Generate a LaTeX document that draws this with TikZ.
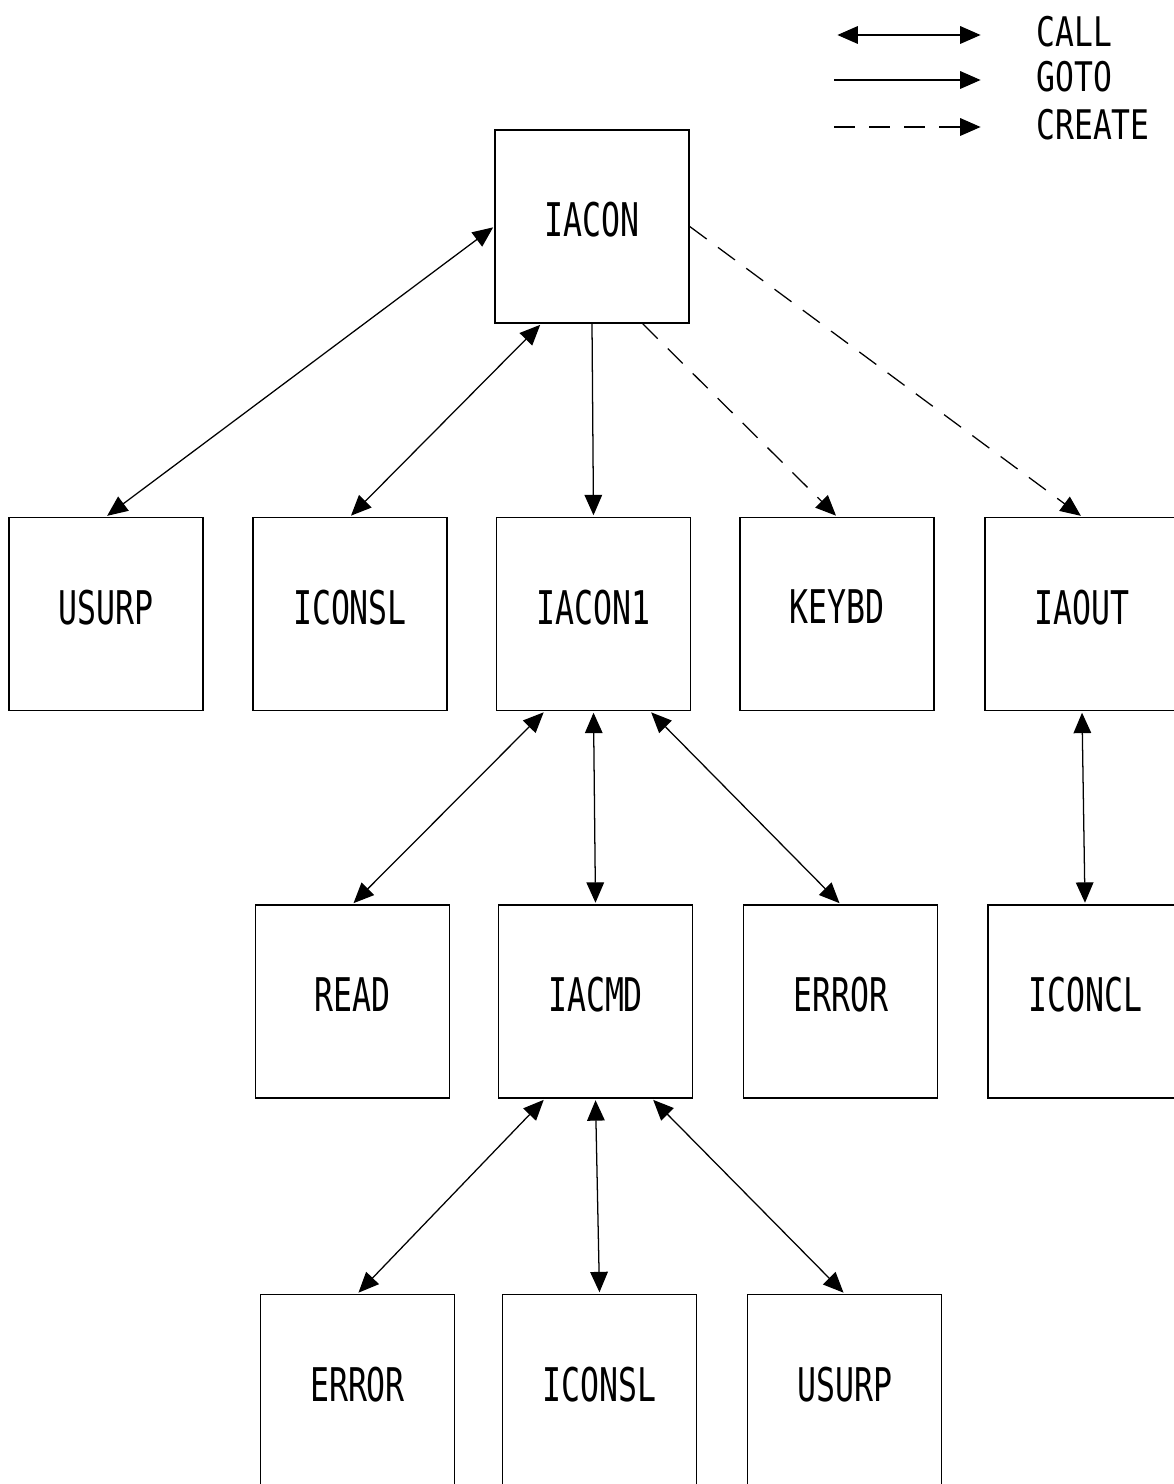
\documentclass[tikz,border=0pt]{standalone}
\usepackage{fontspec}
\newfontfamily\plotfont[FakeStretch=0.68]{DejaVu Sans Mono}
\newfontfamily\keyfont[FakeStretch=0.77]{DejaVu Sans Mono}
\usetikzlibrary{arrows.meta,calc}

\begin{document}
\begin{tikzpicture}[x=0.025cm,y=-0.025cm,
    box/.style={draw, line width=1pt, minimum width=4.85cm, minimum height=4.83cm,
        inner sep=0pt, text depth=10pt, font=\plotfont\fontsize{33}{33}\selectfont},
    key/.style={anchor=west, inner sep=0pt, font=\keyfont\fontsize{29}{29}\selectfont},
    tip/.tip={Triangle[length=14.5pt,width=12.5pt]},
    call/.style={tip-tip, line width=0.9pt, shorten <=1pt, shorten >=1pt},
    goto/.style={-tip, line width=0.9pt, shorten >=1pt},
    create/.style={goto, dash pattern=on 15pt off 10pt}]

\clip (0,0) rectangle (1174,1484);

% top level
\node[box] (iacon) at (592,226.5) {IACON};

% second row
\node[box] (usurp)  at (106,614)   {USURP};
\node[box] (iconsl) at (350,614)   {ICONSL};
\node[box] (iacon1) at (593.5,614) {IACON1};
\node[box] (keybd)  at (837,614)   {KEYBD};
\node[box] (iaout)  at (1082,614)  {IAOUT};

% third row
\node[box] (read)   at (352.5,1001.5) {READ};
\node[box] (iacmd)  at (595.5,1001.5) {IACMD};
\node[box] (error)  at (840.5,1001.5) {ERROR};
\node[box] (iconcl) at (1085,1001.5)  {ICONCL};

% bottom row
\node[box] (errorb)  at (357.5,1391) {ERROR};
\node[box] (iconslb) at (599.5,1391) {ICONSL};
\node[box] (usurpb)  at (844.5,1391) {USURP};

% links out of IACON
\draw[call] (usurp.north) -- (iacon.west);
\draw[call] (iconsl.north) -- ($(iacon.south west)!.24!(iacon.south east)$);
\draw[goto] (iacon.south) -- (iacon1.north);
\draw[create] ($(iacon.south west)!.76!(iacon.south east)$) -- (keybd.north);
\draw[create] (iacon.east) -- (iaout.north);

% links out of IACON1 and IAOUT
\draw[call] ($(iacon1.south west)!.25!(iacon1.south east)$) -- (read.north);
\draw[call] (iacon1.south) -- (iacmd.north);
\draw[call] ($(iacon1.south west)!.79!(iacon1.south east)$) -- (error.north);
\draw[call] (iaout.south) -- (iconcl.north);

% links out of IACMD
\draw[call] ($(iacmd.south west)!.24!(iacmd.south east)$) -- (errorb.north);
\draw[call] (iacmd.south) -- (iconslb.north);
\draw[call] ($(iacmd.south west)!.79!(iacmd.south east)$) -- (usurpb.north);

% key
\coordinate (callA) at (836,35);   \coordinate (callB) at (982,35);
\coordinate (gotoA) at (834,80);   \coordinate (gotoB) at (982,80);
\coordinate (creA)  at (834,127);  \coordinate (creB)  at (982,127);
\draw[call] (callA) -- (callB);
\draw[goto] (gotoA) -- (gotoB);
\draw[create] (creA) -- (creB);
\node[key] (callkey) at (1036,32)  {CALL};
\node[key] (gotokey) at (1036,77)  {GOTO};
\node[key] (crekey)  at (1036,125) {CREATE};

\end{tikzpicture}
\end{document}
